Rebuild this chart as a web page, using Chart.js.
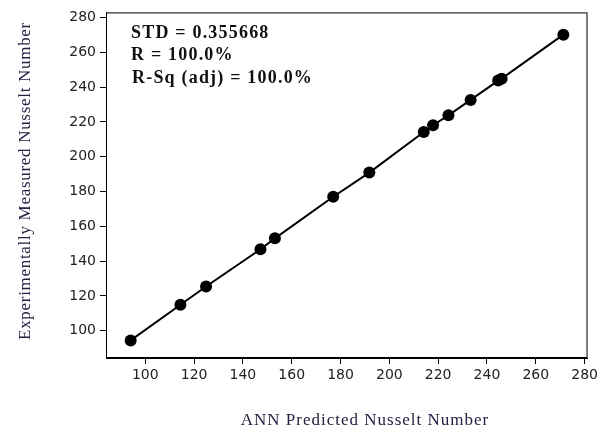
<!DOCTYPE html>
<html>
<head>
<meta charset="utf-8">
<script src="https://cdn.jsdelivr.net/npm/chart.js@4"></script>
<style>
	body { margin: 0; background: #fff; }
	canvas { display: block; }
</style>
</head>
<body>
<canvas id="fitChart" width="601" height="433"></canvas>
<script>
// DATA
const annPredicted = [94.0, 114.4, 124.9, 147.2, 153.1, 177.0, 191.8, 214.1, 217.9, 224.2, 233.3, 244.6, 246.0, 271.3];
const measured = [94.4, 114.9, 125.4, 146.8, 153.1, 177.0, 190.9, 214.2, 218.1, 223.8, 232.7, 243.8, 244.9, 270.2];
const xTicks = [100, 120, 140, 160, 180, 200, 220, 240, 260, 280];
const yTicks = [100, 120, 140, 160, 180, 200, 220, 240, 260, 280];
const statLines = ["STD = 0.355668", "R = 100.0%", "R-Sq (adj) = 100.0%"];
const xTitle = "ANN Predicted Nusselt Number";
const yTitle = "Experimentally Measured Nusselt Number";

const points = annPredicted.map((x, i) => ({x: x, y: measured[i]}));

// frame + text drawn on top
const decorPlugin = {
	id: "decor",
	afterDraw(chart) {
		const c = chart.ctx;
		const a = chart.chartArea;
		c.save();
		c.strokeStyle = "#000";
		c.lineWidth = 1;
		c.strokeRect(a.left + 0.5, a.top + 0.5, a.right - a.left - 1, a.bottom - a.top - 1);

		// stats box text
		c.fillStyle = "#111";
		c.font = "bold 18px 'Liberation Serif'";
		c.letterSpacing = "1.2px";
		c.textAlign = "left";
		c.textBaseline = "alphabetic";
		c.fillText(statLines[0], 131, 38);
		c.fillText(statLines[1], 131, 60);
		c.fillText(statLines[2], 132, 83);

		// axis titles
		c.fillStyle = "#222244";
		c.font = "17px 'Liberation Serif'";
		c.letterSpacing = "1px";
		c.textAlign = "center";
		c.fillText(xTitle, 365, 425);

		c.translate(30, 181);
		c.rotate(-Math.PI / 2);
		c.letterSpacing = "0.7px";
		c.fillText(yTitle, 0, 0);
		c.restore();
	}
};

const ctx = document.getElementById("fitChart");
new Chart(ctx, {
	type: "scatter",
	data: {
		datasets: [{
			label: "fit",
			data: points,
			showLine: true,
			borderColor: "#000",
			borderWidth: 2,
			backgroundColor: "#000",
			pointRadius: 6,
			pointBackgroundColor: "#000",
			pointBorderWidth: 0
		}]
	},
	options: {
		responsive: false,
		animation: false,
		layout: {padding: {top: 11, right: 8, left: 0, bottom: 0}},
		plugins: {
			legend: {display: false},
			tooltip: {enabled: false}
		},
		scales: {
			x: {
				type: "linear",
				min: 83.9,
				max: 281.2,
				afterBuildTicks: (s) => { s.ticks = xTicks.map(v => ({value: v})); },
				afterFit: (s) => { s.height = 75; },
				grid: {drawOnChartArea: false, drawTicks: true, tickLength: 6, color: "#000"},
				border: {display: true, color: "#000", width: 1},
				ticks: {
					font: {family: "DejaVu Sans", size: 14},
					color: "#222",
					padding: 3,
					maxRotation: 0,
					autoSkip: false
				}
			},
			y: {
				type: "linear",
				min: 84.3,
				max: 283,
				afterBuildTicks: (s) => { s.ticks = yTicks.map(v => ({value: v})); },
				afterFit: (s) => { s.width = 106; },
				grid: {drawOnChartArea: false, drawTicks: true, tickLength: 6, color: "#000"},
				border: {display: true, color: "#000", width: 1},
				ticks: {
					font: {family: "DejaVu Sans", size: 14},
					color: "#222",
					padding: 4,
					autoSkip: false
				}
			}
		}
	},
	plugins: [decorPlugin]
});
</script>
</body>
</html>
